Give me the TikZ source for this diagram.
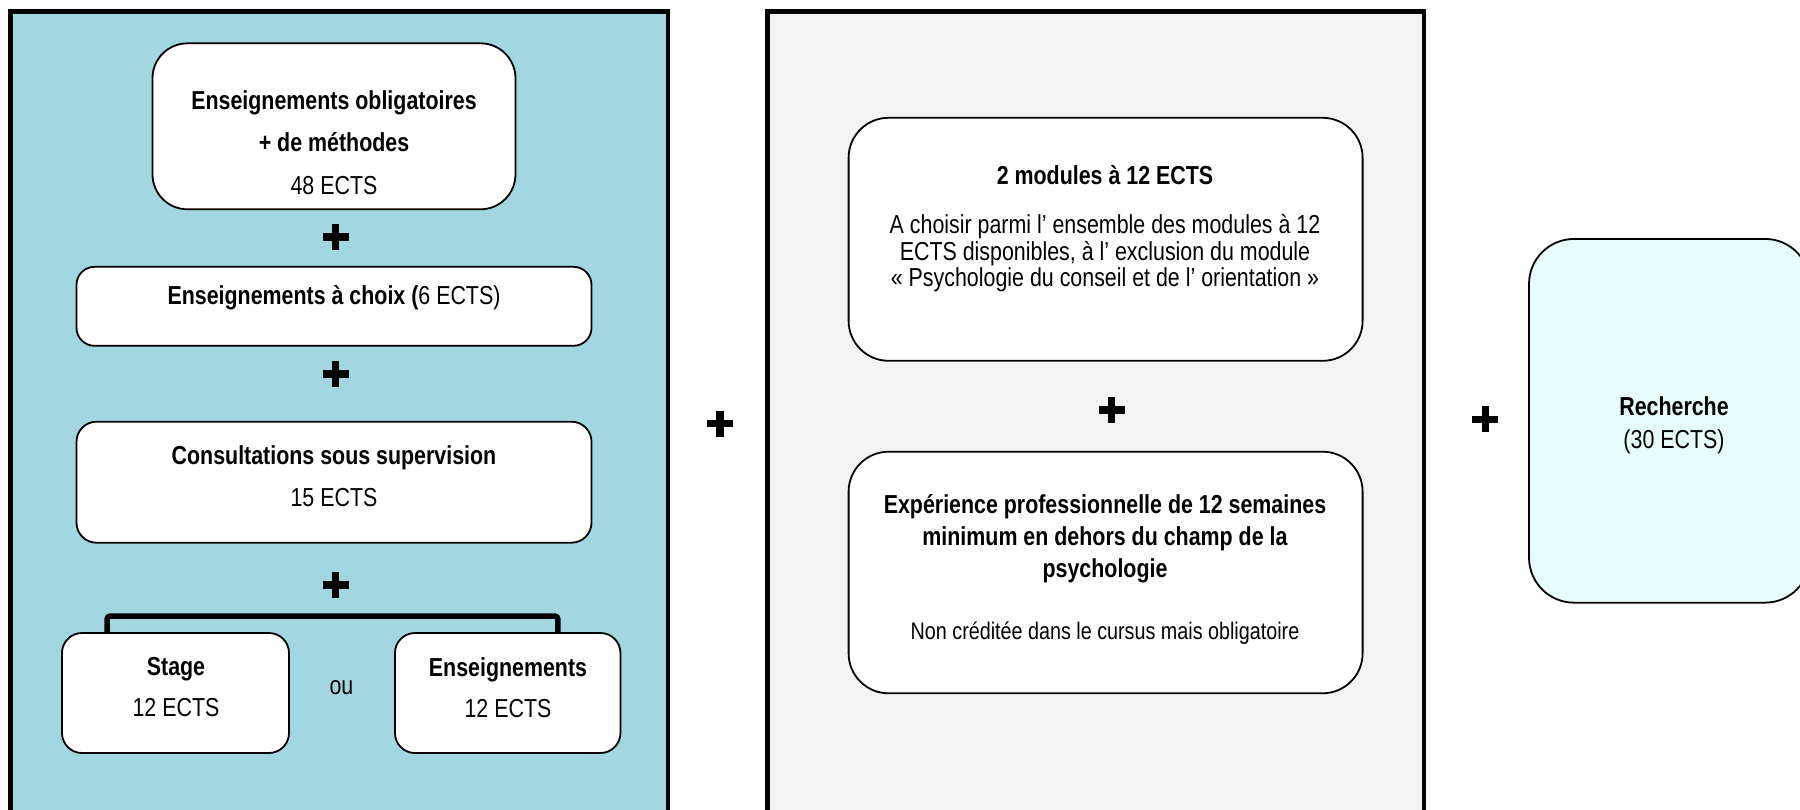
\documentclass[tikz,border=0pt]{standalone}
\usepackage{fontspec}
\setmainfont{Liberation Sans}[FakeStretch=0.823]
\usepackage{tikz}
\usepackage{color}

\definecolor{panelblue}{RGB}{162,215,226}
\definecolor{panelgrey}{RGB}{243,243,243}
\definecolor{researchcyan}{RGB}{230,253,251}

\newcommand{\bigplus}{\rlap{\rule[9.25pt]{26pt}{7.5pt}}\hspace{9.25pt}\rule{7.5pt}{26pt}\hspace{9.25pt}}

\begin{document}
\begin{tikzpicture}[%
      x=1pt, y=-1pt,
      font=\fontsize{26}{26.5}\selectfont,
      whitebox/.style={draw=black, fill=white, line width=1.8pt, inner sep=0pt},
      txt/.style={align=center, inner sep=0pt},
      plussign/.style={inner sep=0pt},
      ]
      \useasboundingbox (0,0) rectangle (1800,809);
      \clip (0,0) rectangle (1800,809);
      \filldraw [fill=panelblue, draw=black, line width=4.5pt] (10.7,11.7) rectangle (668,840);
      \filldraw [fill=panelgrey, draw=black, line width=4.5pt] (767.7,11.7) rectangle (1424,840);

      \node [whitebox, rounded corners=35pt, minimum width=363pt, minimum height=166pt] (oblig) at (334,126.3) {};
      \node [whitebox, rounded corners=18pt, minimum width=515pt, minimum height=79pt] (choix) at (334,306.3) {};
      \node [whitebox, rounded corners=20pt, minimum width=515pt, minimum height=121pt] (consult) at (334,482.2) {};
      \node [whitebox, rounded corners=20pt, minimum width=227pt, minimum height=120pt] (stage) at (175.5,693) {};
      \node [whitebox, rounded corners=20pt, minimum width=225.5pt, minimum height=120pt] (ens) at (507.7,693) {};

      \draw [line width=5.5pt, rounded corners=3pt] ([xshift=46pt]stage.north west) -- ++(0,-16) -| ([xshift=-63.5pt]ens.north east);

      \node [whitebox, rounded corners=40pt, minimum width=514pt, minimum height=243pt] (modules) at (1105.6,239.3) {};
      \node [whitebox, rounded corners=40pt, minimum width=514pt, minimum height=241.6pt] (experience) at (1105.6,572.5) {};
      \node [whitebox, fill=researchcyan, rounded corners=45pt, minimum width=281pt, minimum height=363.7pt] (recherche) at (1669.5,420.8) {};

      \node [txt] (obligtxt) at (334,142.5) {\textbf{Enseignements obligatoires}\\[16pt]\textbf{+ de méthodes}\\[16pt]48 ECTS};
      \node [txt] (choixtxt) at (334,298) {\textbf{Enseignements à choix (}6 ECTS)};
      \node [txt] (consulttxt) at (334,476) {\textbf{Consultations sous supervision}\\[15.5pt]15 ECTS};
      \node [txt] (stagetxt) at (176,687.5) {\textbf{Stage}\\[14.5pt]12 ECTS};
      \node [txt] (enstxt) at (508,687.5) {\textbf{Enseignements}\\[14.5pt]12 ECTS};
      \node [txt] (ou) at (341.5,688) {ou};

      \node [txt] (modulestxt) at (1105,229) {\textbf{2 modules à 12 ECTS}\\[22.5pt]A choisir parmi l’ ensemble des modules à 12\\ECTS disponibles, à l’ exclusion du module\\« Psychologie du conseil et de l’ orientation »};
      \node [txt] (experiencetxt) at (1105,569) {\textbf{Expérience professionnelle de 12 semaines}\\[5.5pt]\textbf{minimum en dehors du champ de la}\\[5.5pt]\textbf{psychologie}\\[35.5pt]{\fontsize{24}{24}\selectfont Non créditée dans le cursus mais obligatoire}};
      \node [txt] (recherchetxt) at (1674,425.5) {\textbf{Recherche}\\[6.5pt](30 ECTS)};

      \node [plussign] (plusA) at (331,237) {\bigplus};
      \node [plussign] (plusB) at (331,374) {\bigplus};
      \node [plussign] (plusC) at (331,585) {\bigplus};
      \node [plussign] (plusD) at (715.5,423.5) {\bigplus};
      \node [plussign] (plusE) at (1107,410) {\bigplus};
      \node [plussign] (plusF) at (1480.7,419.3) {\bigplus};
      \end{tikzpicture}
\end{document}
